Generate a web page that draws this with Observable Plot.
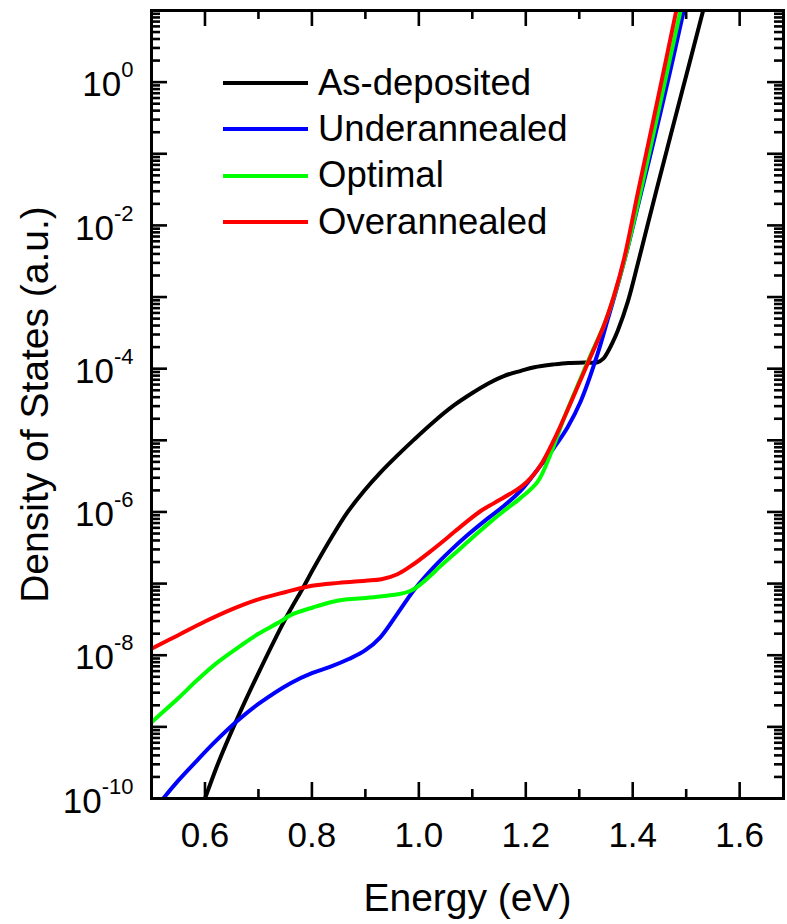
<!DOCTYPE html>
<html>
<head>
<meta charset="utf-8">
<script src="https://cdn.jsdelivr.net/npm/d3@7"></script>
<script src="https://cdn.jsdelivr.net/npm/@observablehq/plot@0.6"></script>
<style>
  body { margin: 0; background: #fff; font-family: "Liberation Sans", Arial, sans-serif; }
  #chart { position: relative; width: 787px; height: 924px; }
  #legend { position: absolute; left: 223px; top: 60px; }
  .row { display: flex; align-items: center; height: 46.3px; }
  .swatch { width: 85px; height: 4px; margin-right: 10px; }
  .row span { font-size: 36.5px; color: #000; white-space: nowrap; line-height: 1; }
</style>
</head>
<body>
<div id="chart"><div id="legend"></div></div>
<script>
// Density of states per anneal condition; values given as log10(DOS, a.u.)
const seriesNames = ["As-deposited", "Underannealed", "Optimal", "Overannealed"];
const seriesColors = ["#000000", "#0000ff", "#00ff00", "#ff0000"];

const asDepositedEnergy = [0.59, 0.60, 0.625, 0.657, 0.70, 0.75, 0.784, 0.803, 0.838, 0.866, 0.897, 0.928, 0.96, 0.991, 1.028, 1.066, 1.10, 1.129, 1.16, 1.191, 1.216, 1.253, 1.28, 1.31, 1.334, 1.345, 1.353, 1.362, 1.372, 1.391, 1.41, 1.429, 1.444, 1.47, 1.50, 1.531, 1.545];
const asDepositedLogDos = [-10.2, -10.0, -9.50, -8.94, -8.25, -7.50, -7.05, -6.79, -6.34, -6.01, -5.71, -5.45, -5.21, -4.99, -4.74, -4.51, -4.34, -4.21, -4.10, -4.03, -3.98, -3.94, -3.92, -3.915, -3.91, -3.86, -3.77, -3.64, -3.47, -3.06, -2.52, -1.96, -1.52, -0.77, 0.09, 0.98, 1.38];

const underannealedEnergy = [0.51, 0.522, 0.55, 0.585, 0.62, 0.657, 0.70, 0.76, 0.80, 0.835, 0.87, 0.90, 0.928, 0.96, 0.991, 1.028, 1.059, 1.09, 1.129, 1.16, 1.191, 1.228, 1.253, 1.278, 1.303, 1.334, 1.353, 1.372, 1.391, 1.41, 1.44, 1.47, 1.495, 1.51];
const underannealedLogDos = [-10.12, -10.0, -9.75, -9.47, -9.2, -8.94, -8.68, -8.39, -8.25, -8.16, -8.05, -7.93, -7.75, -7.42, -7.09, -6.77, -6.54, -6.33, -6.09, -5.91, -5.70, -5.35, -5.10, -4.82, -4.45, -3.80, -3.32, -2.83, -2.30, -1.72, -0.80, 0.15, 0.98, 1.45];

const optimalEnergy = [0.49, 0.50, 0.55, 0.585, 0.62, 0.672, 0.70, 0.741, 0.76, 0.803, 0.835, 0.866, 0.90, 0.928, 0.96, 0.985, 1.003, 1.02, 1.04, 1.073, 1.10, 1.129, 1.16, 1.191, 1.222, 1.247, 1.272, 1.30, 1.322, 1.347, 1.365, 1.384, 1.412, 1.45, 1.489, 1.50];
const optimalLogDos = [-9.02, -8.94, -8.60, -8.35, -8.12, -7.84, -7.70, -7.53, -7.44, -7.33, -7.26, -7.22, -7.20, -7.18, -7.15, -7.10, -7.01, -6.90, -6.76, -6.54, -6.36, -6.17, -5.98, -5.80, -5.58, -5.18, -4.68, -4.18, -3.80, -3.38, -2.99, -2.50, -1.62, -0.34, 0.98, 1.36];

const overannealedEnergy = [0.49, 0.50, 0.55, 0.60, 0.65, 0.70, 0.75, 0.80, 0.85, 0.90, 0.93, 0.96, 0.99, 1.02, 1.05, 1.084, 1.115, 1.14, 1.17, 1.191, 1.21, 1.23, 1.253, 1.278, 1.30, 1.322, 1.347, 1.365, 1.384, 1.41, 1.44, 1.481, 1.495];
const overannealedLogDos = [-7.95, -7.91, -7.72, -7.53, -7.36, -7.22, -7.12, -7.03, -6.99, -6.96, -6.94, -6.87, -6.73, -6.56, -6.38, -6.17, -5.99, -5.88, -5.75, -5.65, -5.52, -5.32, -4.99, -4.58, -4.20, -3.82, -3.38, -2.98, -2.46, -1.53, -0.48, 0.98, 1.48];

// Axis ticks
const energyDomain = [0.5, 1.682];
const dosDomain = [1e-10, 1e1];
const xMajorTicks = [0.6, 0.8, 1.0, 1.2, 1.4, 1.6];
const xMinorTicks = [0.7, 0.9, 1.1, 1.3, 1.5];
const yLabelExponents = [-10, -8, -6, -4, -2, 0];
const yMajorExponents = [-10, -9, -8, -7, -6, -5, -4, -3, -2, -1, 0, 1];
const yMinorMultipliers = [2, 3, 4, 5, 6, 7, 8, 9];

const xTitle = "Energy (eV)";
const yTitle = "Density of States (a.u.)";

const energies = [asDepositedEnergy, underannealedEnergy, optimalEnergy, overannealedEnergy];
const logDos = [asDepositedLogDos, underannealedLogDos, optimalLogDos, overannealedLogDos];
const curves = seriesNames.map((name, i) =>
  energies[i].map((e, j) => ({name, energy: e, dos: 10 ** logDos[i][j]}))
);

const yMajor = yMajorExponents.map(p => 10 ** p);
const yMinor = yMajorExponents.slice(0, -1).flatMap(p => yMinorMultipliers.map(m => m * 10 ** p));
const yLabels = yLabelExponents.map(p => 10 ** p);

const W = 787, H = 924;
const mTop = 10, mRight = 4, mBottom = 126, mLeft = 151;
const innerW = W - mLeft - mRight;
const innerH = H - mTop - mBottom;
const majorLen = 16, minorLen = 9;
const tickStyle = {stroke: "#000", strokeWidth: 2.6};

const chart = Plot.plot({
  width: W,
  height: H,
  marginTop: mTop, marginRight: mRight, marginBottom: mBottom, marginLeft: mLeft,
  style: {background: "#fff", fontFamily: '"Liberation Sans", Arial, sans-serif', color: "#000", overflow: "visible"},
  x: {domain: energyDomain, label: null},
  y: {type: "log", domain: dosDomain, label: null},
  marks: [
    ...curves.map((data, i) => Plot.line(data, {
      x: "energy", y: "dos", stroke: seriesColors[i], strokeWidth: 4,
      curve: "catmull-rom", clip: true
    })),
    // inward ticks on all four sides
    Plot.ruleY(yMajor, {...tickStyle, insetRight: innerW - majorLen}),
    Plot.ruleY(yMajor, {...tickStyle, insetLeft: innerW - majorLen}),
    Plot.ruleY(yMinor, {...tickStyle, insetRight: innerW - minorLen}),
    Plot.ruleY(yMinor, {...tickStyle, insetLeft: innerW - minorLen}),
    Plot.ruleX(xMajorTicks, {...tickStyle, insetTop: innerH - majorLen}),
    Plot.ruleX(xMajorTicks, {...tickStyle, insetBottom: innerH - majorLen}),
    Plot.ruleX(xMinorTicks, {...tickStyle, insetTop: innerH - minorLen}),
    Plot.ruleX(xMinorTicks, {...tickStyle, insetBottom: innerH - minorLen}),
    Plot.frame({stroke: "#000", strokeWidth: 3}),
    Plot.axisX({ticks: xMajorTicks, tickSize: 0, tickPadding: 24, fontSize: 35, tickFormat: d => d.toFixed(1), label: null}),
    Plot.axisY({ticks: yLabels, tickSize: 0, tickPadding: 18, fontSize: 35, dy: 3,
      tickFormat: d => `10^${Math.round(Math.log10(d))}`, label: null}),
    Plot.text([xTitle], {text: d => d, frameAnchor: "bottom", dy: 112, fontSize: 39, lineAnchor: "bottom", textAnchor: "middle", fill: "#000"}),
    Plot.text([yTitle], {text: d => d, frameAnchor: "left", dx: -104, rotate: -90, fontSize: 39, lineAnchor: "bottom", textAnchor: "middle", fill: "#000"})
  ]
});

// Power-of-ten labels: raise the exponent
const svgNS = "http://www.w3.org/2000/svg";
chart.querySelectorAll('g[aria-label="y-axis tick label"] text').forEach(t => {
  const [base, exp] = t.textContent.split("^");
  t.textContent = base;
  const sup = document.createElementNS(svgNS, "tspan");
  sup.setAttribute("dy", "-19");
  sup.setAttribute("font-size", "22");
  sup.textContent = exp;
  t.appendChild(sup);
});

const container = document.getElementById("chart");
container.insertBefore(chart, container.firstChild);

// Legend
const legend = document.getElementById("legend");
seriesNames.forEach((name, i) => {
  const row = document.createElement("div");
  row.className = "row";
  const sw = document.createElement("div");
  sw.className = "swatch";
  sw.style.background = seriesColors[i];
  const label = document.createElement("span");
  label.textContent = name;
  row.appendChild(sw);
  row.appendChild(label);
  legend.appendChild(row);
});
</script>
</body>
</html>
